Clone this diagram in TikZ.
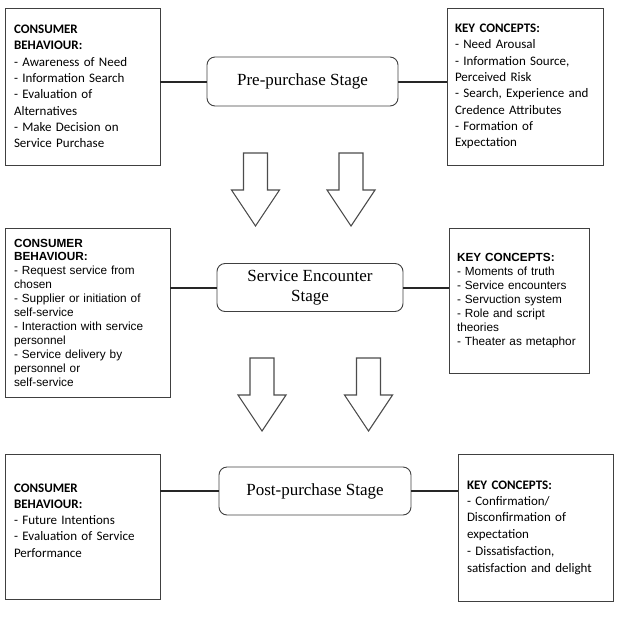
\documentclass[tikz,border=0pt]{standalone}
\usepackage{fontspec}
\newfontfamily\calibrifont{Carlito}
\newfontfamily\arialfont{Liberation Sans}
\newfontfamily\stagefont{Liberation Serif}
\usepackage{tikz}
\usetikzlibrary{calc, positioning}

\tikzset{
  infobox/.style={draw=black!75, line width=0.9pt, rectangle, inner xsep=9pt, inner ysep=0pt, align=left},
  cbfont/.style={font=\fontsize{13}{16.3}\selectfont\calibrifont},
  arfont/.style={font=\fontsize{11.8}{13.9}\selectfont\arialfont},
  stagebox/.style={draw=black!75, line width=0.9pt, rounded corners=8pt, align=center, inner sep=0pt,
    font=\fontsize{17}{20}\selectfont\stagefont},
  link/.style={line width=2pt, black!85},
  blockarrow/.style={draw=black!70, line width=1.1pt, fill=white, line join=miter}
}

\begin{document}
\begin{tikzpicture}[x=1pt, y=-1pt]
\useasboundingbox (0,0) rectangle (620,625);
% Stage 1 - pre-purchase
\node[infobox, cbfont, text width=137pt, minimum height=157pt] (cbpre) at (82.5,86.5)
  {\textbf{CONSUMER}\\\textbf{BEHAVIOUR:}\\- Awareness of Need\\- Information Search\\- Evaluation of\\Alternatives\\- Make Decision on\\Service Purchase};
\node[stagebox, minimum width=191pt, minimum height=49pt] (stpre) at (302.5,81.5) {Pre-purchase Stage};
\node[infobox, cbfont, text width=140pt, minimum height=157pt, inner xsep=8pt] (kcpre) at (525,86.5)
  {\textbf{KEY CONCEPTS:}\\- Need Arousal\\- Information Source,\\Perceived Risk\\- Search, Experience and\\Credence Attributes\\- Formation of\\Expectation};
% Stage 2 - service encounter
\node[infobox, arfont, text width=147pt, minimum height=169pt] (cbenc) at (87.5,312.5)
  {\textbf{CONSUMER}\\\textbf{BEHAVIOUR:}\\- Request service from\\chosen\\- Supplier or initiation of\\self-service\\- Interaction with service\\personnel\\- Service delivery by\\personnel or\\self-service};
\node[stagebox, minimum width=186pt, minimum height=48pt] (stenc) at (310,287.5) {Service Encounter\\Stage};
\node[infobox, arfont, text width=124pt, minimum height=145pt, inner xsep=8pt] (kcenc) at (519,300.5)
  {\textbf{KEY CONCEPTS:}\\- Moments of truth\\- Service encounters\\- Servuction system\\- Role and script\\theories\\- Theater as metaphor};
% Stage 3 - post-purchase
\node[infobox, cbfont, text width=137pt, minimum height=145pt] (cbpost) at (82.5,526.5)
  {\textbf{CONSUMER}\\\textbf{BEHAVIOUR:}\\- Future Intentions\\- Evaluation of Service\\Performance\\[-4pt]\mbox{}};
\node[stagebox, minimum width=192pt, minimum height=48pt] (stpost) at (315,491) {Post-purchase Stage};
\node[infobox, cbfont, text width=137pt, minimum height=147pt] (kcpost) at (535.5,527.5)
  {\textbf{KEY CONCEPTS:}\\- Confirmation/\\Disconfirmation of\\expectation\\[1.5pt]- Dissatisfaction,\\satisfaction and delight};
% Links between boxes and stages
\draw[link] (cbpre.east |- stpre.west) -- (stpre.west);
\draw[link] (stpre.east) -- (kcpre.west |- stpre.east);
\draw[link] (cbenc.east |- stenc.west) -- (stenc.west);
\draw[link] (stenc.east) -- (kcenc.west |- stenc.east);
\draw[link] (cbpost.east |- stpost.west) -- (stpost.west);
\draw[link] (stpost.east) -- (kcpost.west |- stpost.east);
% Hollow block arrows between stages
\foreach \ax/\ay in {255.5/153, 351/153, 262/358, 368.5/358} {
  \draw[blockarrow] (\ax-12,\ay) -- (\ax+12,\ay) -- (\ax+12,\ay+37) -- (\ax+24,\ay+37)
    -- (\ax,\ay+73) -- (\ax-24,\ay+37) -- (\ax-12,\ay+37) -- cycle;
}
\end{tikzpicture}
\end{document}
